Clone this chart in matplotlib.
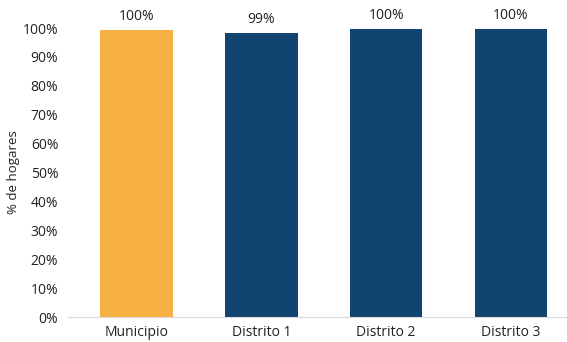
import matplotlib.pyplot as plt
from matplotlib.ticker import PercentFormatter

plt.rcParams['font.family'] = ['Open Sans', 'DejaVu Sans']

categorias = ['Municipio', 'Distrito 1', 'Distrito 2', 'Distrito 3']
valores = [0.993, 0.983, 0.998, 0.998]
etiquetas = ['100%', '99%', '100%', '100%']
colores = ['#F6B142', '#124470', '#124470', '#124470']

fig = plt.figure(figsize=(5.67, 3.42), dpi=100)
ax = fig.add_axes([0.12, 0.073, 0.88, 0.845])

barras = ax.bar(range(len(categorias)), valores, width=0.58, color=colores)
for b, t in zip(barras, etiquetas):
    ax.text(b.get_x() + b.get_width() / 2, b.get_height() + 0.02, t,
            ha='center', va='bottom', fontsize=10, color='#222222', clip_on=False)

ax.set_ylim(0, 1)
ax.set_xlim(-0.55, 3.45)
ax.set_yticks([i / 10 for i in range(11)])
ax.yaxis.set_major_formatter(PercentFormatter(1.0, decimals=0))
ax.set_xticks(range(len(categorias)))
ax.set_xticklabels(categorias)
ax.set_ylabel('% de hogares', fontsize=9.5, color='#222222', labelpad=2)

for s in ['top', 'right', 'left']:
    ax.spines[s].set_visible(False)
ax.spines['bottom'].set_color('#D9D9D9')
ax.tick_params(axis='both', length=0, labelsize=10, colors='#222222')
ax.tick_params(axis='x', pad=6)
ax.tick_params(axis='y', pad=7)

fig.savefig('out.png', dpi=100)
